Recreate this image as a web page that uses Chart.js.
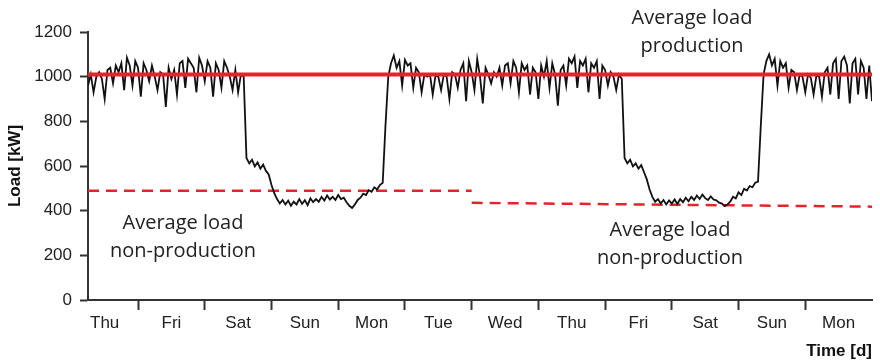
<!DOCTYPE html>
<html>
<head>
<meta charset="utf-8">
<script src="https://cdn.jsdelivr.net/npm/chart.js@4.4.0/dist/chart.umd.min.js"></script>
<style>
  html, body { margin: 0; padding: 0; background: #fff; }
  #wrap { width: 880px; height: 362px; }
</style>
</head>
<body>
<div id="wrap"><canvas id="loadChart"></canvas></div>
<script>
// day names under the x axis, one per day (label sits at noon)
const dayLabels = ["Thu", "Fri", "Sat", "Sun", "Mon", "Tue", "Wed", "Thu", "Fri", "Sat", "Sun", "Mon"];
const yTicks = [0, 200, 400, 600, 800, 1000, 1200];

// hourly load [kW], first value at hour 6 (Thu 06:00), last at hour 288
const startHour = 6;
const endHour = 288;
const loadKW = [
  960, 1010, 930, 1000, 1020, 990, 900, 1030, 1040, 970, 1050, 1020,
  1060, 940, 1085, 1050, 960, 1070, 1040, 910, 1060, 1030, 980, 1050,
  1000, 940, 1020, 1010, 865, 1040, 990, 1030, 920, 1060, 1070, 950,
  1080, 1060, 1040, 930, 1085, 1050, 980, 1070, 1040, 910, 1060, 1030,
  950, 1070, 1040, 1000, 940, 1030, 930, 1010, 1000, 636, 612, 628,
  598, 616, 588, 606, 578, 562, 515, 478, 452, 432, 448, 428,
  445, 422, 440, 428, 452, 430, 447, 425, 455, 438, 452, 440,
  462, 445, 468, 450, 462, 448, 470, 452, 458, 438, 422, 412,
  428, 448, 458, 476, 470, 492, 485, 505, 495, 515, 525, 780,
  1000, 1060, 1095, 1040, 1070, 960, 1075, 1050, 1060, 950, 1040, 1020,
  930, 1010, 1000, 1010, 920, 1005, 1000, 940, 1010, 1000, 900, 1020,
  1010, 950, 1030, 1060, 890, 1070, 1020, 940, 1080, 1000, 880, 1040,
  1010, 970, 1020, 1000, 1040, 960, 1050, 1060, 970, 1070, 1040, 930,
  1060, 1030, 1050, 920, 1040, 1020, 900, 1050, 1000, 1070, 950, 1060,
  1010, 870, 1030, 1050, 960, 1080, 1060, 1090, 950, 1070, 1050, 1080,
  930, 1060, 1040, 1070, 900, 1050, 1030, 960, 1020, 1000, 940, 1010,
  990, 636, 612, 628, 598, 612, 588, 604, 572, 540, 495, 462,
  440, 452, 432, 448, 428, 446, 432, 450, 430, 452, 438, 458,
  442, 462, 448, 468, 452, 472, 456, 448, 464, 450, 446, 436,
  432, 420, 428, 440, 462, 455, 482, 470, 498, 490, 510, 505,
  525, 530, 780, 1010, 1070, 1100, 1050, 1080, 960, 1070, 1040, 1060,
  950, 1030, 1020, 940, 1010, 1000, 930, 1010, 995, 920, 1005, 1000,
  910, 1020, 1040, 920, 1060, 1080, 900, 1070, 1090, 1050, 880, 1060,
  1080, 920, 1070, 1040, 900, 1050, 890
];

// average lines
const avgProduction = 1010;
const weekSplitHour = 144;
const avgNonProdWeek1 = [489, 489];
const avgNonProdWeek2 = [435, 418];

const red = "#e4242a";

const loadPoints = loadKW.map((v, i) => ({ x: startHour + i, y: v }));

const notes = [
  { x: 692, y: 18, lines: ["Average load", "production"] },
  { x: 183, y: 223, lines: ["Average load", "non-production"] },
  { x: 670, y: 230, lines: ["Average load", "non-production"] },
];

const notePlugin = {
  id: "notes",
  afterDraw(chart) {
    const ctx = chart.ctx;
    ctx.save();
    ctx.font = '20px "Open Sans"';
    ctx.fillStyle = "#222";
    ctx.textAlign = "center";
    ctx.textBaseline = "middle";
    notes.forEach(n => n.lines.forEach((t, i) => ctx.fillText(t, n.x, n.y + i * 28)));
    ctx.restore();
  }
};

const axisFont = { family: "'Liberation Sans', Arial, sans-serif", size: 17 };
const titleFont = { family: "'Liberation Sans', Arial, sans-serif", size: 17, weight: "bold" };

new Chart(document.getElementById("loadChart"), {
  type: "line",
  data: {
    datasets: [
      {
        data: [{ x: startHour, y: avgProduction }, { x: endHour, y: avgProduction }],
        borderColor: red, borderWidth: 4, order: 0,
      },
      {
        data: loadPoints,
        borderColor: "#111", borderWidth: 1.8, order: 1,
      },
      {
        data: [{ x: startHour, y: avgNonProdWeek1[0] }, { x: weekSplitHour, y: avgNonProdWeek1[1] }],
        borderColor: red, borderWidth: 2.5, borderDash: [11, 7], order: 2,
      },
      {
        data: [{ x: weekSplitHour, y: avgNonProdWeek2[0] }, { x: endHour, y: avgNonProdWeek2[1] }],
        borderColor: red, borderWidth: 2.5, borderDash: [11, 7], order: 2,
      },
    ],
  },
  options: {
    responsive: true,
    maintainAspectRatio: false,
    animation: false,
    layout: { padding: { top: 32, right: 8, left: 0, bottom: 0 } },
    elements: { point: { radius: 0 }, line: { tension: 0 } },
    plugins: { legend: { display: false }, tooltip: { enabled: false } },
    scales: {
      x: {
        type: "linear",
        min: startHour,
        max: endHour,
        afterBuildTicks: s => {
          const t = [];
          for (let h = 12; h < endHour; h += 12) t.push({ value: h });
          s.ticks = t;
        },
        afterFit: s => { s.height = 62; },
        border: { color: "#333", width: 2 },
        grid: {
          drawOnChartArea: false,
          tickLength: 10,
          tickWidth: 2,
          tickColor: c => (c.tick && c.tick.value % 24 === 0 ? "#333" : "rgba(0,0,0,0)"),
        },
        ticks: {
          autoSkip: false,
          maxRotation: 0,
          padding: 3,
          color: "#222",
          font: axisFont,
          callback: v => (v % 24 === 12 ? dayLabels[(v - 12) / 24] : ""),
        },
        title: { display: true, text: "Time [d]", align: "end", color: "#111", font: titleFont, padding: { top: 0, bottom: 0 } },
      },
      y: {
        min: 0,
        max: 1200,
        afterBuildTicks: s => { s.ticks = yTicks.map(v => ({ value: v })); },
        afterFit: s => { s.width = 88; },
        border: { color: "#333", width: 2 },
        grid: { drawOnChartArea: false, tickLength: 8, tickWidth: 2, tickColor: "#333" },
        ticks: { padding: 8, color: "#222", font: axisFont, callback: v => String(v) },
        title: { display: true, text: "Load [kW]", color: "#111", font: titleFont, padding: { top: 5, bottom: 0 } },
      },
    },
  },
  plugins: [notePlugin],
});
</script>
</body>
</html>
